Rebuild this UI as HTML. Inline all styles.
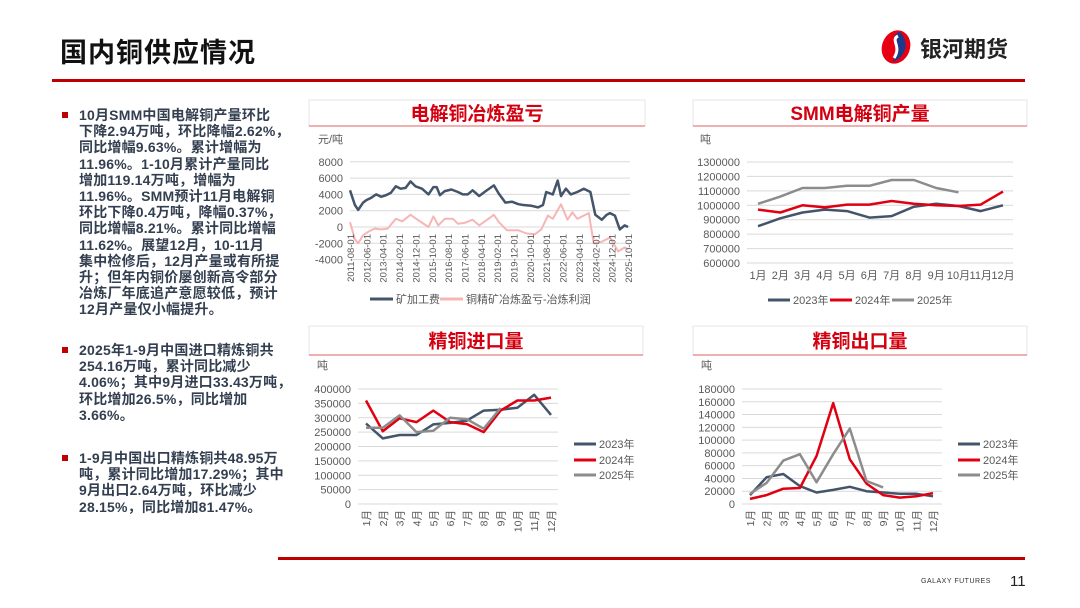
<!DOCTYPE html>
<html><head><meta charset="utf-8">
<style>
body{margin:0;width:1080px;height:608px;overflow:hidden;background:#fff;font-family:"Liberation Sans","Noto Sans CJK SC",sans-serif;position:relative}
.t{position:absolute;color:#333f50;font-weight:bold;font-size:14px;line-height:16.2px;white-space:nowrap;letter-spacing:0.2px}
.b{position:absolute;width:6px;height:6px;background:#c00000}
</style></head><body>
<div style="position:absolute;left:60px;top:31px;font-size:27px;font-weight:bold;color:#111;letter-spacing:1px">国内铜供应情况</div>
<div style="position:absolute;left:52px;top:79px;width:973px;height:3px;background:#c00000"></div>
<div style="position:absolute;left:876px;top:28px;width:150px;height:38px">
<svg width="40" height="38" viewBox="0 0 40 38"><ellipse cx="20" cy="19" rx="14" ry="17" fill="#e60012" transform="rotate(20 20 19)"/><path d="M24 4 C10 8 30 18 16 34 C30 30 34 14 24 4Z" fill="#1d3a8a"/><path d="M22 8 C14 12 26 18 18 30" stroke="#fff" stroke-width="3" fill="none"/></svg>
<span style="position:absolute;left:44px;top:4px;font-size:22px;font-weight:bold;color:#222">银河期货</span></div>

<div class="b" style="left:62px;top:112px"></div>
<div class="t" style="left:79px;top:107px">10月SMM中国电解铜产量环比<br>下降2.94万吨，环比降幅2.62%，<br>同比增幅9.63%。累计增幅为<br>11.96%。1-10月累计产量同比<br>增加119.14万吨，增幅为<br>11.96%。SMM预计11月电解铜<br>环比下降0.4万吨，降幅0.37%，<br>同比增幅8.21%。累计同比增幅<br>11.62%。展望12月，10-11月<br>集中检修后，12月产量或有所提<br>升；但年内铜价屡创新高令部分<br>冶炼厂年底追产意愿较低，预计<br>12月产量仅小幅提升。</div>
<div class="b" style="left:62px;top:347px"></div>
<div class="t" style="left:79px;top:342px">2025年1-9月中国进口精炼铜共<br>254.16万吨，累计同比减少<br>4.06%；其中9月进口33.43万吨，<br>环比增加26.5%，同比增加<br>3.66%。</div>
<div class="b" style="left:62px;top:455px"></div>
<div class="t" style="left:79px;top:450px">1-9月中国出口精炼铜共48.95万<br>吨，累计同比增加17.29%；其中<br>9月出口2.64万吨，环比减少<br>28.15%，同比增加81.47%。</div>

<div style="position:absolute;left:278px;top:557px;width:747px;height:3px;background:#c00000"></div>
<div style="position:absolute;left:921px;top:578px;font-size:7px;color:#333;letter-spacing:0.5px">GALAXY FUTURES</div>
<div style="position:absolute;left:1010px;top:573px;font-size:15px;color:#222">11</div>

<svg id="s" width="1080" height="608" style="position:absolute;left:0;top:0"></svg>
<script>
// Chart 1 data: month offsets from 2011-08
const c1Months=[0,3,5,8,10,13,16,19,22,25,28,31,34,37,40,44,48,51,53,55,58,62,66,69,72,75,79,83,88,91,95,99,103,106,111,115,118,120,124,127,129,132,135,139,143,147,150,154,157,159,162,165,168,170];
const c1Fee=[4500,2700,2100,3000,3300,3600,4000,3700,3900,4200,5000,4700,4800,5600,5000,4700,4000,4900,4900,3900,4400,4600,4300,4000,4000,4500,3800,4400,5100,4100,3000,3100,2800,2700,2600,2400,2700,4300,4000,5700,3800,4700,4000,4300,4700,4300,1500,900,1500,1700,1400,-300,200,0];
const c1ProfitMonths=[0,3,5,8,11,15,19,23,28,32,37,42,48,51,54,58,63,66,70,75,79,88,91,96,100,103,108,113,117,121,124,129,133,136,139,146,149,154,159,164,168,170];
const c1Profit=[600,-1500,-2000,-1000,-600,-200,-300,-200,1000,700,1500,800,0,1300,200,1000,1000,400,500,900,200,1500,600,-400,-400,-400,-800,-900,-300,1400,1000,2800,900,1800,1000,1700,-2000,-1800,-1300,-3000,-2500,-2700];
const c1Ticks=[8000,6000,4000,2000,0,-2000,-4000];
const c1DateLabels=["2011-08-01","2012-06-01","2013-04-01","2014-02-01","2014-12-01","2015-10-01","2016-08-01","2017-06-01","2018-04-01","2019-02-01","2019-12-01","2020-10-01","2021-08-01","2022-06-01","2023-04-01","2024-02-01","2024-12-01","2025-10-01"];
// Chart 2
const months=["1月","2月","3月","4月","5月","6月","7月","8月","9月","10月","11月","12月"];
const c2y2023=[855000,910000,950000,970000,960000,915000,925000,990000,1010000,995000,960000,1000000];
const c2y2024=[970000,950000,1000000,985000,1005000,1005000,1030000,1010000,1000000,995000,1005000,1095000];
const c2y2025=[1010000,1060000,1120000,1120000,1135000,1135000,1175000,1175000,1120000,1090000];
const c2Ticks=[1300000,1200000,1100000,1000000,900000,800000,700000,600000];
// Chart 3
const c3y2023=[280000,228000,240000,240000,277000,282000,290000,325000,328000,335000,380000,310000];
const c3y2024=[360000,253000,298000,285000,325000,285000,278000,250000,325000,360000,360000,370000];
const c3y2025=[265000,265000,308000,250000,255000,300000,295000,262000,334000];
const c3Ticks=[400000,350000,300000,250000,200000,150000,100000,50000,0];
// Chart 4
const c4y2023=[14000,42000,47000,28000,18000,22000,27000,20000,18000,16000,16000,12000];
const c4y2024=[8000,14000,24000,25000,75000,158000,70000,32000,14000,10000,12000,17000];
const c4y2025=[16000,33000,68000,78000,34000,78000,118000,36000,26000];
const c4Ticks=[180000,160000,140000,120000,100000,80000,60000,40000,20000,0];

const NS="http://www.w3.org/2000/svg",S=document.getElementById('s');
function mk(t,a,txt){const e=document.createElementNS(NS,t);for(const k in a)e.setAttribute(k,a[k]);if(txt!=null)e.textContent=txt;S.appendChild(e);return e;}
const DARK="#44546a",RED="#e00012",GRAY="#8c8c8c",PINK="#f7b6b6",TC="#595959";

function panel(x,y,w,h,title,name){
  const r=mk('rect',{x:x,y:y,width:w,height:h,fill:'#fff',stroke:'#e6e6e6','stroke-width':1});
  
  const l=mk('line',{x1:x,x2:x+w,y1:y+h,y2:y+h,stroke:'#e88080','stroke-width':1.2});
  
  const t=mk('text',{x:x+w/2,y:y+h/2+7,'text-anchor':'middle','font-size':19,'font-weight':'bold',fill:'#d40010'},title);
  
}
function yaxis(ticks,ys,gx1,gx2,lx,name){
  ticks.forEach(v=>{const g=mk('line',{x1:gx1,x2:gx2,y1:ys(v),y2:ys(v),stroke:'#d9d9d9','stroke-width':1});
    
    const t=mk('text',{x:lx,y:ys(v)+4,'text-anchor':'end','font-size':11,fill:TC},String(v));
    });
}
function line(xs,vals,xf,ys,col,w,name){
  const d=vals.map((v,i)=>(i?'L':'M')+xf(xs[i]).toFixed(1)+' '+ys(v).toFixed(1)).join(' ');
  const p=mk('path',{d:d,fill:'none',stroke:col,'stroke-width':w,'stroke-linejoin':'round'});
  
}
function legend(x,y,col,label,name,lw){
  const l=mk('line',{x1:x,x2:x+lw,y1:y,y2:y,stroke:col,'stroke-width':3});
  
  const t=mk('text',{x:x+lw+3,y:y+4,'font-size':11,fill:TC},label);
  
}
function unit(x,y,s,name){const t=mk('text',{x:x,y:y,'font-size':11,fill:TC},s);}

// Chart 1
panel(309,100,336,26,'电解铜冶炼盈亏','c1');
unit(318,143,'元/吨','c1-y-unit');
{const y1=v=>227-(v/2000)*16.3, x1=m=>350+m*(628-350)/170;
 yaxis(c1Ticks,y1,350,630,343,'c1');
 line(c1Months,c1Fee,x1,y1,DARK,2.5,'c1-series-fee');
 line(c1ProfitMonths,c1Profit,x1,y1,PINK,2,'c1-series-profit');
 c1DateLabels.forEach((s,i)=>{const x=x1(i*10);const t=mk('text',{x:0,y:0,transform:`translate(${x+4},234) rotate(-90)`,'text-anchor':'end','font-size':9.5,fill:TC},s);
  });
 legend(370,299,DARK,'矿加工费','c1-legend-fee',23);
 legend(440,299,PINK,'铜精矿冶炼盈亏-冶炼利润','c1-legend-profit',23);
}
// Chart 2
panel(693,100,334,26,'SMM电解铜产量','c2');
unit(700,143,'吨','c2-y-unit');
{const y2=v=>162+(1300000-v)/700000*101, x2=i=>758+i*(1003-758)/11;
 yaxis(c2Ticks,y2,747,1013,740,'c2');
 line(months.map((_,i)=>i),c2y2023,x2,y2,DARK,2.5,'c2-series-2023');
 line(months.map((_,i)=>i),c2y2024,x2,y2,RED,2.5,'c2-series-2024');
 line(months.map((_,i)=>i),c2y2025,x2,y2,GRAY,2.5,'c2-series-2025');
 months.forEach((m,i)=>{const t=mk('text',{x:x2(i),y:279,'text-anchor':'middle','font-size':11,fill:TC},m);});
 legend(768,300,DARK,'2023年','c2-legend-2023',22);
 legend(830,300,RED,'2024年','c2-legend-2024',22);
 legend(892,300,GRAY,'2025年','c2-legend-2025',22);
}
function monthly(name,title,px,gx1,gx2,mx1,mx2,lx,ticks,max,a,b,c,legx){
  panel(px,326,334,29,title,name);
  unit(px+8,369,'吨',name+'-y-unit');
  const ys=v=>389+(max-v)/max*115, xs=i=>mx1+i*(mx2-mx1)/11;
  yaxis(ticks,ys,gx1,gx2,lx,name);
  const I=months.map((_,i)=>i);
  line(I,a,xs,ys,DARK,2.5,name+'-series-2023');
  line(I,b,xs,ys,RED,2.5,name+'-series-2024');
  line(I,c,xs,ys,GRAY,2.5,name+'-series-2025');
  months.forEach((m,i)=>{const t=mk('text',{x:0,y:0,transform:`translate(${xs(i)+4},510) rotate(-90)`,'text-anchor':'end','font-size':10.5,fill:TC},m);});
  legend(legx,444,DARK,'2023年',name+'-legend-2023',22);
  legend(legx,460,RED,'2024年',name+'-legend-2024',22);
  legend(legx,475,GRAY,'2025年',name+'-legend-2025',22);
}
monthly('c3','精铜进口量',309,358,558,366,551,351,c3Ticks,400000,c3y2023,c3y2024,c3y2025,574);
monthly('c4','精铜出口量',693,742,942,750,933,735,c4Ticks,180000,c4y2023,c4y2024,c4y2025,958);
</script>
</body></html>
